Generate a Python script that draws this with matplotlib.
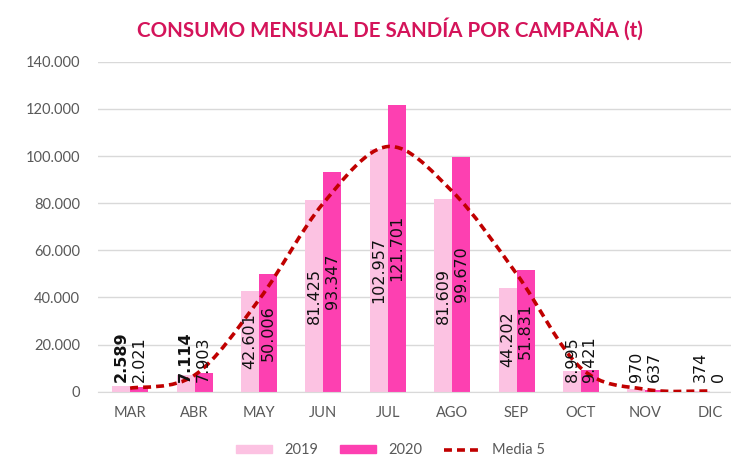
import matplotlib.pyplot as plt
from matplotlib.path import Path
from matplotlib.patches import PathPatch
from matplotlib.lines import Line2D
import numpy as np

months = ["MAR", "ABR", "MAY", "JUN", "JUL", "AGO", "SEP", "OCT", "NOV", "DIC"]
v2019 = [2589, 7114, 42601, 81425, 102957, 81609, 44202, 8995, 970, 374]
v2020 = [2021, 7903, 50006, 93347, 121701, 99670, 51831, 9421, 637, 0]
# media de 5 campañas
media5 = [1500, 7000, 39000, 80000, 104000, 85000, 50000, 10000, 1000, 300]
bold_2019 = ["MAR", "ABR"]

c2019 = "#fcc2e2"
c2020 = "#fd40b1"
cmedia = "#c00000"
gris = "#595959"


def fmt(v):
    return f"{v:,}".replace(",", ".")


def smooth_path(xs, ys):
    # curva suavizada tipo Excel (Catmull-Rom en Bezier)
    p = np.column_stack([xs, ys]).astype(float)
    ext = np.vstack([p[0], p, p[-1]])
    verts = [p[0]]
    codes = [Path.MOVETO]
    for i in range(len(p) - 1):
        a, b, c, d = ext[i], ext[i + 1], ext[i + 2], ext[i + 3]
        verts += [b + (c - a) / 6, c - (d - b) / 6, c]
        codes += [Path.CURVE4] * 3
    return Path(verts, codes)


fig = plt.figure(figsize=(7.31, 4.69), dpi=100)
ax = fig.add_axes([0.134, 0.1648, 0.881, 0.7036])

x = np.arange(len(months))
w = 0.28
ax.bar(x - w / 2, v2019, w, color=c2019, zorder=2)
ax.bar(x + w / 2, v2020, w, color=c2020, zorder=2)

ax.add_patch(PathPatch(smooth_path(x, media5), facecolor="none", edgecolor=cmedia,
                       lw=2.6, linestyle=(0, (2.2, 1.4)), zorder=4))

for i, m in enumerate(months):
    for xv, v, bold in [(x[i] - w / 2, v2019[i], m in bold_2019), (x[i] + w / 2, v2020[i], False)]:
        if v / 2 < 13000:
            y, va = 4000, "bottom"
        else:
            y, va = v / 2, "center"
        ax.text(xv, y, fmt(v), rotation=90, ha="center", va=va, fontsize=11.5,
                color="#111111", fontweight="bold" if bold else "normal", zorder=5)

ax.set_xlim(-0.5, len(months) - 0.5)
ax.set_ylim(0, 140000)
ax.set_yticks(np.arange(0, 140001, 20000))
ax.set_yticklabels([fmt(t) for t in range(0, 140001, 20000)])
ax.set_xticks(x)
ax.set_xticklabels(months)
ax.tick_params(axis="both", length=0, colors=gris, labelsize=10.5)
ax.tick_params(axis="y", pad=13)
ax.tick_params(axis="x", pad=10)
for lab in ax.get_xticklabels() + ax.get_yticklabels():
    lab.set_family("Lato")
ax.grid(axis="y", color="#d9d9d9", lw=1, zorder=0)
ax.set_axisbelow(True)
for s in ["left", "right", "top"]:
    ax.spines[s].set_visible(False)
ax.spines["bottom"].set_color("#d9d9d9")

fig.text(0.534, 0.938, "CONSUMO MENSUAL DE SANDÍA POR CAMPAÑA (t)", ha="center", va="center",
         fontsize=14.8, fontweight="bold", color="#d4145a", family="Lato")

handles = [plt.Rectangle((0, 0), 1, 1, color=c2019), plt.Rectangle((0, 0), 1, 1, color=c2020),
           Line2D([0], [0], color=cmedia, lw=2.6, linestyle=(0, (2.2, 1.4)))]
fig.legend(handles, ["2019", "2020", "Media 5"], loc="center", bbox_to_anchor=(0.534, 0.04),
           ncol=3, frameon=False, handlelength=2.5, handleheight=0.5, columnspacing=1.5,
           prop={"family": "Lato", "size": 10.5}, labelcolor=gris)

fig.savefig("out.png", dpi=100)
